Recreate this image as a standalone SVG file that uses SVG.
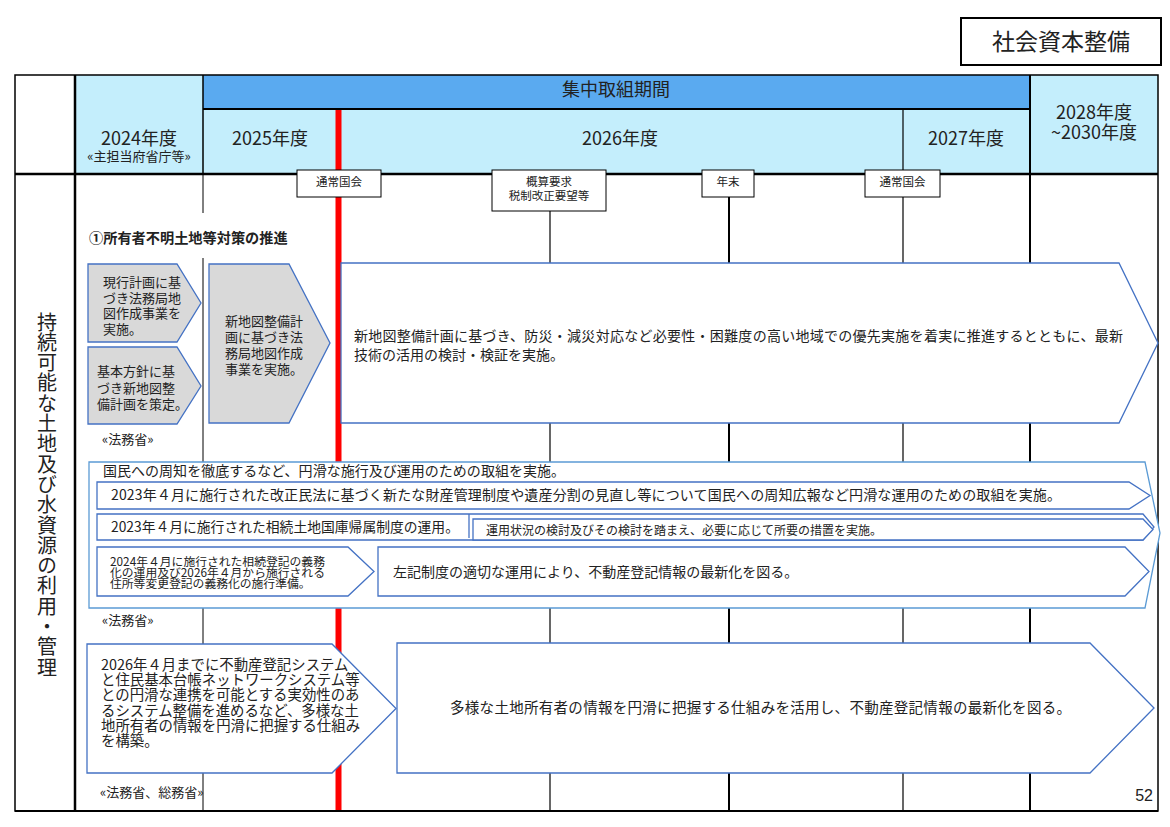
<svg xmlns="http://www.w3.org/2000/svg" width="1170" height="827" viewBox="0 0 1170 827">
<defs>
<style>
text{font-family:"Noto Sans CJK JP","Noto Sans",sans-serif;fill:#222;}
.hdr{font-size:18px;text-anchor:middle;}
.ms{font-size:11.5px;text-anchor:middle;}
.t13{font-size:13px;}
.t14{font-size:14px;}
.t12{font-size:12px;}
.agency{font-size:13px;}
.gray{fill:#D9D9D9;stroke:#4472C4;stroke-width:1.3;}
.wbox{fill:#FFFFFF;stroke:#4472C4;stroke-width:1.3;}
.grp{fill:#FFFFFF;stroke:#5B9BD5;stroke-width:1.3;}
.gl{stroke:#000;fill:none;}
.msbox{fill:#FFFFFF;stroke:#000;stroke-width:1;}
.red{stroke:#FF0000;stroke-width:6;}
</style>
</defs>
<rect x="0" y="0" width="1170" height="827" fill="#FFFFFF"/>

<g id="title">
<rect x="961" y="18" width="200" height="47" fill="#FFFFFF" stroke="#000" stroke-width="2"/>
<text x="1061" y="50" style="font-size:23px;text-anchor:middle;">社会資本整備</text>
</g>

<g id="table-grid">
<rect x="75" y="75" width="128" height="99" fill="#C4EEFC"/>
<rect x="203" y="75" width="827" height="34" fill="#5AAAF0"/>
<rect x="203" y="109" width="827" height="65" fill="#C4EEFC"/>
<rect x="1030" y="75" width="128" height="99" fill="#C4EEFC"/>
<rect x="15" y="75" width="1143" height="736" class="gl" stroke-width="1.5"/>
<line x1="15" y1="174" x2="1158" y2="174" class="gl" stroke-width="2.5"/>
<line x1="203" y1="109" x2="1030" y2="109" class="gl" stroke-width="2"/>
<line x1="75" y1="75" x2="75" y2="811" class="gl" stroke-width="2.5"/>
<line x1="203" y1="75" x2="203" y2="174" class="gl" stroke-width="1.5"/>
<line x1="203" y1="174" x2="203" y2="811" class="gl" stroke-width="1"/>
<line x1="903" y1="109" x2="903" y2="811" class="gl" stroke-width="1.2"/>
<line x1="1030" y1="75" x2="1030" y2="811" class="gl" stroke-width="2"/>
<line x1="15" y1="811" x2="1158" y2="811" class="gl" stroke-width="2"/>
<line x1="338.5" y1="110" x2="338.5" y2="810" class="red"/>
</g>

<g id="header-labels">
<text x="616" y="96" class="hdr">集中取組期間</text>
<text x="139" y="145" class="hdr">2024年度</text>
<text x="139" y="161" style="font-size:13px;text-anchor:middle;">«主担当府省庁等»</text>
<text x="270" y="145" class="hdr">2025年度</text>
<text x="620" y="145" class="hdr">2026年度</text>
<text x="966" y="145" class="hdr">2027年度</text>
<text x="1094" y="119" class="hdr">2028年度</text>
<text x="1094" y="139" class="hdr">~2030年度</text>
</g>

<g id="connectors">
<line x1="550" y1="211" x2="550" y2="811" class="gl" stroke-width="1.2"/>
<line x1="729" y1="197" x2="729" y2="811" class="gl" stroke-width="2"/>
</g>

<g id="milestone-tsujo-1">
<rect x="297" y="170" width="84" height="27" class="msbox"/>
<text x="339" y="186" class="ms">通常国会</text>
</g>
<g id="milestone-gaisan">
<rect x="492" y="170" width="114" height="41" class="msbox"/>
<text x="549" y="186" class="ms">概算要求</text>
<text x="549" y="200" class="ms">税制改正要望等</text>
</g>
<g id="milestone-nenmatsu">
<rect x="702" y="170" width="52" height="27" class="msbox"/>
<text x="728" y="186" class="ms">年末</text>
</g>
<g id="milestone-tsujo-2">
<rect x="865" y="170" width="75" height="27" class="msbox"/>
<text x="902.5" y="186" class="ms">通常国会</text>
</g>

<g id="section-label">
<text x="47" y="312" style="font-size:20px;writing-mode:vertical-rl;letter-spacing:0.3px;">持続可能な土地及び水資源の利用・管理</text>
</g>

<g id="heading-1">
<rect x="82" y="213" width="215" height="45" fill="#FFFFFF"/>
<text x="89" y="243" style="font-size:14.2px;font-weight:bold;">①所有者不明土地等対策の推進</text>
</g>

<g id="node-genko">
<polygon points="88,264 177,264 201,303 177,342 88,342" class="gray"/>
<text class="t13"><tspan x="103" y="287">現行計画に基</tspan><tspan x="103" y="302.5">づき法務局地</tspan><tspan x="103" y="318">図作成事業を</tspan><tspan x="103" y="333.5">実施。</tspan></text>
</g>
<g id="node-kihon">
<polygon points="88,347 177,347 201,386 177,424 88,424" class="gray"/>
<text class="t13"><tspan x="97" y="376">基本方針に基</tspan><tspan x="97" y="392.5">づき新地図整</tspan><tspan x="97" y="409">備計画を策定。</tspan></text>
</g>
<text x="102" y="444" class="agency">«法務省»</text>
<g id="node-shinchizu">
<polygon points="209,264 289,264 330,343 289,423 209,423" class="gray"/>
<text class="t13"><tspan x="225" y="326">新地図整備計</tspan><tspan x="225" y="342">画に基づき法</tspan><tspan x="225" y="358">務局地図作成</tspan><tspan x="225" y="374">事業を実施。</tspan></text>
</g>
<g id="node-shinchizu-2026">
<polygon points="341,263 1119,263 1158,343 1119,423 341,423" class="wbox"/>
<text class="t14"><tspan x="354" y="341" textLength="769" lengthAdjust="spacing">新地図整備計画に基づき、防災・減災対応など必要性・困難度の高い地域での優先実施を着実に推進するとともに、最新</tspan><tspan x="354" y="360">技術の活用の検討・検証を実施。</tspan></text>
</g>

<g id="group-minpo">
<polygon points="89,462 1145,462 1160,533 1145,608 89,608" class="grp"/>
<text x="103" y="476" class="t14" textLength="462" lengthAdjust="spacing">国民への周知を徹底するなど、円滑な施行及び運用のための取組を実施。</text>
</g>
<g id="node-kaisei-minpo">
<polygon points="97,482 1129,482 1150,495.5 1129,509 97,509" class="wbox"/>
<text x="111" y="500" class="t14" textLength="950" lengthAdjust="spacing">2023年４月に施行された改正民法に基づく新たな財産管理制度や遺産分割の見直し等について国民への周知広報など円滑な運用のための取組を実施。</text>
</g>
<g id="node-kokko-kizoku">
<polygon points="97,514 1143,514 1154,527 1143,540 97,540" class="wbox"/>
<line x1="469" y1="514" x2="469" y2="538" stroke="#4472C4" stroke-width="1.3"/>
<text x="111" y="532" style="font-size:13.8px;">2023年４月に施行された相続土地国庫帰属制度の運用。</text>
</g>
<g id="node-unyo-kento">
<polygon points="473,519 1143,519 1153,529.5 1143,540 473,540" class="wbox"/>
<text x="486" y="534.5" class="t12">運用状況の検討及びその検討を踏まえ、必要に応じて所要の措置を実施。</text>
</g>
<g id="node-sozoku-toki">
<polygon points="97,547 348,547 374,571.5 348,596 97,596" class="wbox"/>
<text style="font-size:11.8px;"><tspan x="110" y="565.5">2024年４月に施行された相続登記の義務</tspan><tspan x="110" y="576.7">化の運用及び2026年４月から施行される</tspan><tspan x="110" y="587.9">住所等変更登記の義務化の施行準備。</tspan></text>
</g>
<g id="node-saishinka">
<polygon points="378,547 1125,547 1149,571.5 1125,596 378,596" class="wbox"/>
<text x="393" y="577" class="t14">左記制度の適切な運用により、不動産登記情報の最新化を図る。</text>
</g>
<text x="102" y="625" class="agency">«法務省»</text>

<g id="node-system">
<polygon points="87,644 332,644 396,708.5 332,773 87,773" class="wbox"/>
<text style="font-size:14.4px;"><tspan x="101" y="670">2026年４月までに不動産登記システム</tspan><tspan x="101" y="685.2">と住民基本台帳ネットワークシステム等</tspan><tspan x="101" y="700.4">との円滑な連携を可能とする実効性のあ</tspan><tspan x="101" y="715.6">るシステム整備を進めるなど、多様な土</tspan><tspan x="101" y="730.8">地所有者の情報を円滑に把握する仕組み</tspan><tspan x="101" y="746">を構築。</tspan></text>
</g>
<g id="node-katsuyo">
<polygon points="397,643 1090,643 1154,708 1090,773 397,773" class="wbox"/>
<text x="450" y="713" style="font-size:14.5px;" textLength="621" lengthAdjust="spacing">多様な土地所有者の情報を円滑に把握する仕組みを活用し、不動産登記情報の最新化を図る。</text>
</g>
<text x="100" y="797" class="agency">«法務省、総務省»</text>

<text x="1153" y="801" style="font-family:'Liberation Sans',Arial,sans-serif;font-size:16px;text-anchor:end;">52</text>
</svg>
